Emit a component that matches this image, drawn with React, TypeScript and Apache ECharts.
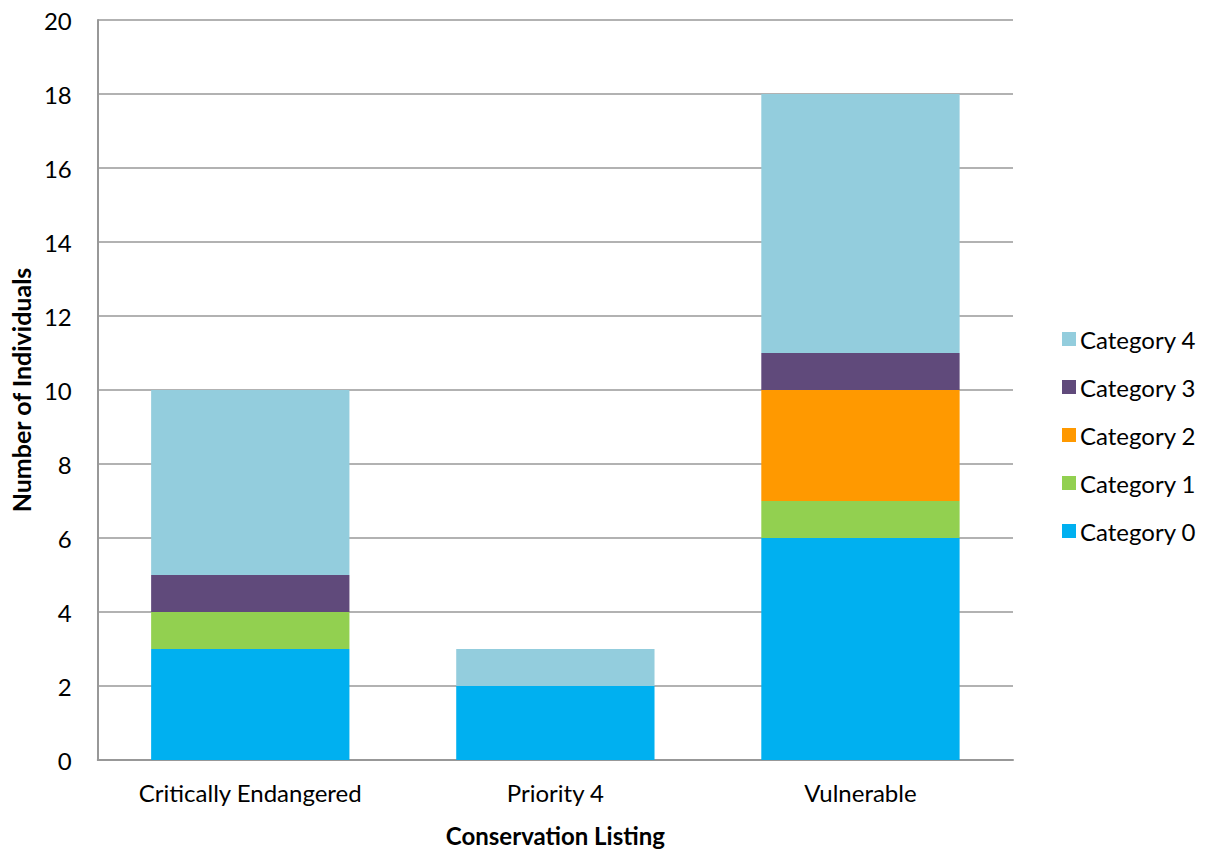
import React, { useEffect, useRef } from "react";
import * as echarts from "echarts";

const categories = ["Critically Endangered", "Priority 4", "Vulnerable"];
const seriesNames = ["Category 0", "Category 1", "Category 2", "Category 3", "Category 4"];
const cat0 = [3, 2, 6];
const cat1 = [1, 0, 1];
const cat2 = [0, 0, 3];
const cat3 = [1, 0, 1];
const cat4 = [5, 1, 7];
const colors = ["#00B0F0", "#92D050", "#FF9900", "#604A7B", "#93CDDD"];
const yTicks = [0, 2, 4, 6, 8, 10, 12, 14, 16, 18, 20];

const FONT = "Lato, 'Open Sans', sans-serif";

export default function App() {
  const ref = useRef<HTMLDivElement>(null);
  useEffect(() => {
    if (!ref.current) return;
    const chart = echarts.init(ref.current, undefined, { renderer: "svg" });
    const values = [cat0, cat1, cat2, cat3, cat4];
    chart.setOption({
      animation: false,
      backgroundColor: "#ffffff",
      textStyle: { fontFamily: FONT },
      grid: { left: 97, right: 195, top: 20, bottom: 94, containLabel: false },
      legend: {
        orient: "vertical",
        left: 1057,
        top: 322,
        itemWidth: 14,
        itemHeight: 14,
        itemGap: 24,
        icon: "rect",
        data: [...seriesNames].reverse(),
        textStyle: { fontSize: 24, color: "#000", fontFamily: FONT, padding: [0, 0, 0, -1] },
      },
      xAxis: {
        type: "category",
        data: categories,
        name: "Conservation Listing",
        nameLocation: "middle",
        nameGap: 63,
        nameTextStyle: { fontSize: 24, fontWeight: "bold", color: "#000", fontFamily: FONT },
        axisLine: { show: true, lineStyle: { color: "#989898", width: 2 } },
        axisTick: { show: false },
        axisLabel: { fontSize: 24, color: "#000", margin: 20, fontFamily: FONT },
      },
      yAxis: {
        type: "value",
        min: 0,
        max: yTicks[yTicks.length - 1],
        interval: 2,
        name: "Number of Individuals",
        nameLocation: "middle",
        nameGap: 63,
        nameTextStyle: { fontSize: 25, fontWeight: "bold", color: "#000", fontFamily: FONT },
        axisLine: { show: true, lineStyle: { color: "#989898", width: 2 } },
        axisTick: { show: false },
        axisLabel: { fontSize: 24, color: "#000", margin: 26, fontFamily: FONT },
        splitLine: { show: true, lineStyle: { color: "#989898", width: 1.5 } },
      },
      series: seriesNames.map((name, i) => ({
        name,
        type: "bar",
        stack: "total",
        barCategoryGap: "35%",
        data: values[i],
        itemStyle: { color: colors[i] },
      })),
    });
    return () => chart.dispose();
  }, []);
  return (
    <div
      ref={ref}
      style={{ position: "fixed", left: 0, top: 0, width: 1208, height: 854 }}
    />
  );
}
